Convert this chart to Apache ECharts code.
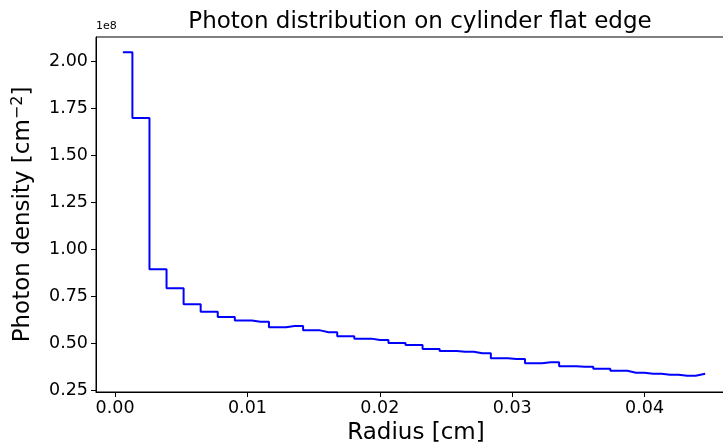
<!DOCTYPE html>
<html>
<head>
<meta charset="utf-8">
<script src="https://cdn.jsdelivr.net/npm/echarts@6/dist/echarts.min.js"></script>
<style>
html,body{margin:0;padding:0;background:#fff;}
#chart{width:723px;height:446px;}
</style>
</head>
<body>
<div id="chart"></div>
<script>
// Bin centres (cm)
const radius = [
  0.000665, 0.001955, 0.003244, 0.004534, 0.005823, 0.007113, 0.008402,
  0.009692, 0.010981, 0.012271, 0.013560, 0.014850, 0.016139, 0.017429,
  0.018718, 0.020008, 0.021297, 0.022587, 0.023876, 0.025166, 0.026455,
  0.027745, 0.029034, 0.030324, 0.031613, 0.032903, 0.034192, 0.035482,
  0.036771, 0.038061, 0.039350, 0.040640, 0.041929, 0.043219, 0.044508
];
// Photon density (x1e8 cm^-2)
const density = [
  2.050, 1.700, 0.896, 0.795, 0.710, 0.670, 0.642,
  0.624, 0.617, 0.587, 0.594, 0.571, 0.561, 0.539,
  0.527, 0.520, 0.504, 0.493, 0.472, 0.461, 0.457,
  0.449, 0.422, 0.419, 0.396, 0.401, 0.380, 0.378,
  0.367, 0.356, 0.346, 0.340, 0.335, 0.330, 0.339
];
const scaleExp = 1e8;
const xTicks = [0.00, 0.01, 0.02, 0.03, 0.04];
const yTicks = [0.25, 0.50, 0.75, 1.00, 1.25, 1.50, 1.75, 2.00];

const titleText = 'Photon distribution on cylinder flat edge';
const xName = 'Radius [cm]';
const offsetText = '1e8';

const FONT = 'DejaVu Sans';
const chart = echarts.init(document.getElementById('chart'), null, {renderer: 'canvas'});

const seriesData = radius.map((r, i) => [r, density[i] * scaleExp]);

chart.setOption({
  animation: false,
  backgroundColor: '#fff',
  textStyle: {fontFamily: FONT},
  title: {
    text: titleText,
    left: 415, top: 6,
    textAlign: 'center',
    textStyle: {fontFamily: FONT, fontSize: 23, fontWeight: 'normal', color: '#000'}
  },
  graphic: [{
    type: 'text', left: 96, top: 21,
    style: {text: offsetText, fontFamily: FONT, fontSize: 11, fill: '#000'}
  }],
  grid: {
    left: 96, top: 37, width: 640, height: 355,
    show: true, borderColor: '#000', borderWidth: 1, backgroundColor: 'transparent',
    containLabel: false,
    outerBoundsMode: 'none'
  },
  xAxis: {
    type: 'value',
    min: -0.00144, max: 0.04691,
    name: xName,
    nameLocation: 'middle',
    nameGap: 29,
    nameTextStyle: {fontFamily: FONT, fontSize: 23, color: '#000'},
    axisLine: {onZero: false, lineStyle: {color: '#000', width: 1}},
    axisTick: {show: true, length: 5, inside: false, customValues: xTicks, lineStyle: {color: '#000'}},
    axisLabel: {
      customValues: xTicks,
      margin: 7,
      fontFamily: FONT, fontSize: 17.5, color: '#000',
      formatter: v => v.toFixed(2)
    },
    splitLine: {show: false}
  },
  yAxis: {
    type: 'value',
    min: 0.2431 * scaleExp, max: 2.1314 * scaleExp,
    name: 'Photon density [cm{sup|−2}]',
    nameLocation: 'middle',
    nameRotate: 90,
    nameGap: 60,
    nameTextStyle: {
      fontFamily: FONT, fontSize: 23, color: '#000',
      rich: {sup: {fontFamily: FONT, fontSize: 16, color: '#000', verticalAlign: 'top', padding: [0, 0, 10, 0]}}
    },
    axisLine: {onZero: false, lineStyle: {color: '#000', width: 1}},
    axisTick: {show: true, length: 5, inside: false, customValues: yTicks.map(v => v * scaleExp), lineStyle: {color: '#000'}},
    axisLabel: {
      customValues: yTicks.map(v => v * scaleExp),
      margin: 8,
      fontFamily: FONT, fontSize: 17.5, color: '#000',
      formatter: v => (v / scaleExp).toFixed(2)
    },
    splitLine: {show: false}
  },
  series: [{
    type: 'line',
    step: 'middle',
    data: seriesData,
    showSymbol: false,
    symbol: 'none',
    lineStyle: {color: '#0000ff', width: 2, cap: 'square'},
    clip: true
  }]
});
</script>
</body>
</html>
